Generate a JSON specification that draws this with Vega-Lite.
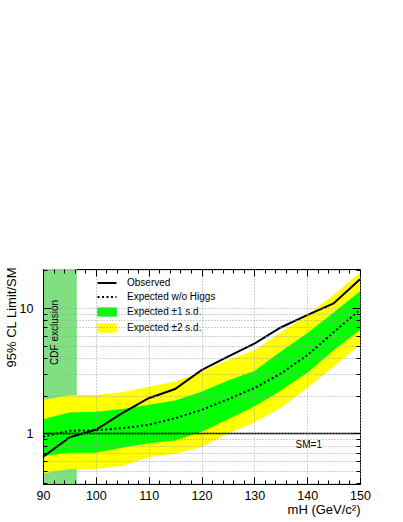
{
  "$schema": "https://vega.github.io/schema/vega-lite/v6.json",
  "width": 317,
  "height": 215,
  "autosize": {"type": "none"},
  "padding": {"left": 43, "top": 269, "right": 43, "bottom": 38},
  "background": "white",
  "config": {
    "font": "Liberation Sans",
    "view": {"stroke": "black", "strokeWidth": 1}
  },
  "resolve": {"axis": {"x": "independent", "y": "independent"}},
  "datasets": {
    "cdf": [{"label": "CDF exclusion", "from": 90, "to": 96.4}],
    "lines": [
      {"m": 90, "series": "Observed", "v": 0.65},
      {"m": 95, "series": "Observed", "v": 0.93},
      {"m": 100, "series": "Observed", "v": 1.07},
      {"m": 105, "series": "Observed", "v": 1.45},
      {"m": 110, "series": "Observed", "v": 1.91},
      {"m": 115, "series": "Observed", "v": 2.26},
      {"m": 120, "series": "Observed", "v": 3.2},
      {"m": 125, "series": "Observed", "v": 4.1},
      {"m": 130, "series": "Observed", "v": 5.2},
      {"m": 135, "series": "Observed", "v": 7.0},
      {"m": 140, "series": "Observed", "v": 8.8},
      {"m": 145, "series": "Observed", "v": 10.9},
      {"m": 150, "series": "Observed", "v": 17.0},
      {"m": 90, "series": "Expected w/o Higgs", "v": 0.94},
      {"m": 95, "series": "Expected w/o Higgs", "v": 1.05},
      {"m": 100, "series": "Expected w/o Higgs", "v": 1.06},
      {"m": 105, "series": "Expected w/o Higgs", "v": 1.1},
      {"m": 110, "series": "Expected w/o Higgs", "v": 1.17},
      {"m": 115, "series": "Expected w/o Higgs", "v": 1.32},
      {"m": 120, "series": "Expected w/o Higgs", "v": 1.54},
      {"m": 125, "series": "Expected w/o Higgs", "v": 1.87},
      {"m": 130, "series": "Expected w/o Higgs", "v": 2.3},
      {"m": 135, "series": "Expected w/o Higgs", "v": 3.0},
      {"m": 140, "series": "Expected w/o Higgs", "v": 4.2},
      {"m": 145, "series": "Expected w/o Higgs", "v": 6.4},
      {"m": 150, "series": "Expected w/o Higgs", "v": 9.7}
    ],
    "bands": [
      {"m": 90, "series": "Expected ±1 s.d.", "lo": 0.66, "hi": 1.3},
      {"m": 95, "series": "Expected ±1 s.d.", "lo": 0.7, "hi": 1.47},
      {"m": 100, "series": "Expected ±1 s.d.", "lo": 0.7, "hi": 1.49},
      {"m": 105, "series": "Expected ±1 s.d.", "lo": 0.77, "hi": 1.57},
      {"m": 110, "series": "Expected ±1 s.d.", "lo": 0.835, "hi": 1.69},
      {"m": 115, "series": "Expected ±1 s.d.", "lo": 0.88, "hi": 1.83},
      {"m": 120, "series": "Expected ±1 s.d.", "lo": 1.03, "hi": 2.15},
      {"m": 125, "series": "Expected ±1 s.d.", "lo": 1.3, "hi": 2.65},
      {"m": 130, "series": "Expected ±1 s.d.", "lo": 1.64, "hi": 3.15},
      {"m": 135, "series": "Expected ±1 s.d.", "lo": 2.2, "hi": 4.5},
      {"m": 140, "series": "Expected ±1 s.d.", "lo": 3.05, "hi": 6.3},
      {"m": 145, "series": "Expected ±1 s.d.", "lo": 4.6, "hi": 9.2},
      {"m": 150, "series": "Expected ±1 s.d.", "lo": 6.7, "hi": 13.6},
      {"m": 90, "series": "Expected ±2 s.d.", "lo": 0.48, "hi": 1.85},
      {"m": 95, "series": "Expected ±2 s.d.", "lo": 0.52, "hi": 2.02},
      {"m": 100, "series": "Expected ±2 s.d.", "lo": 0.52, "hi": 2.03},
      {"m": 105, "series": "Expected ±2 s.d.", "lo": 0.55, "hi": 2.13},
      {"m": 110, "series": "Expected ±2 s.d.", "lo": 0.65, "hi": 2.36},
      {"m": 115, "series": "Expected ±2 s.d.", "lo": 0.69, "hi": 2.59},
      {"m": 120, "series": "Expected ±2 s.d.", "lo": 0.78, "hi": 3.11},
      {"m": 125, "series": "Expected ±2 s.d.", "lo": 1.0, "hi": 3.85},
      {"m": 130, "series": "Expected ±2 s.d.", "lo": 1.22, "hi": 4.6},
      {"m": 135, "series": "Expected ±2 s.d.", "lo": 1.6, "hi": 6.4},
      {"m": 140, "series": "Expected ±2 s.d.", "lo": 2.3, "hi": 8.8},
      {"m": 145, "series": "Expected ±2 s.d.", "lo": 3.4, "hi": 12.7},
      {"m": 150, "series": "Expected ±2 s.d.", "lo": 5.1, "hi": 19.2}
    ]
  },
  "layer": [
    {
      "data": {"name": "cdf"},
      "mark": {"type": "rect", "color": "#80df80", "opacity": 1},
      "encoding": {
        "x": {"field": "from", "type": "quantitative", "scale": {"domain": [90, 150], "nice": false, "zero": false}, "axis": null},
        "x2": {"field": "to"}
      }
    },
    {
      "data": {"name": "bands"},
      "transform": [{"filter": "datum.series == 'Expected ±2 s.d.'"}],
      "mark": {"type": "area", "opacity": 1},
      "encoding": {
        "x": {
          "field": "m", "type": "quantitative",
          "scale": {"domain": [90, 150], "nice": false, "zero": false},
          "axis": {
            "orient": "bottom",
            "values": [90, 100, 110, 120, 130, 140, 150],
            "format": "d",
            "labelFontSize": 12.5, "labelColor": "black", "labelPadding": 12, "labelFlush": false, "labelOverlap": false,
            "grid": true, "gridColor": "#a0a0a0", "gridDash": [1, 2], "gridWidth": 1,
            "tickColor": "black", "tickSize": -7,
            "domain": true, "domainColor": "black",
            "title": "mH (GeV/c²)", "titleFontSize": 13, "titleFontWeight": "normal", "titleColor": "black",
            "titleAnchor": "end", "titleAlign": "right", "titleBaseline": "alphabetic", "titleX": 317, "titleY": 29,
            "zindex": 1
          }
        },
        "y": {
          "field": "lo", "type": "quantitative",
          "scale": {"type": "log", "domain": [0.395, 20.5], "nice": false},
          "axis": {
            "orient": "left",
            "values": [1, 10],
            "format": "d",
            "labelFontSize": 12.5, "labelColor": "black", "labelPadding": 18, "labelOverlap": false,
            "grid": true, "gridColor": "#a0a0a0", "gridDash": [1, 2], "gridWidth": 1,
            "tickColor": "black", "tickSize": -8,
            "domain": true, "domainColor": "black",
            "title": "95% CL Limit/SM", "titleFontSize": 13, "titleFontWeight": "normal", "titleColor": "black",
            "titleAnchor": "end", "titleAlign": "right", "titleBaseline": "alphabetic", "titleAngle": 270, "titleX": -28, "titleY": -2,
            "zindex": 1
          }
        },
        "y2": {"field": "hi"},
        "color": {
          "field": "series", "type": "nominal",
          "scale": {"domain": ["Observed", "Expected w/o Higgs", "Expected ±1 s.d.", "Expected ±2 s.d."], "range": ["black", "black", "#00ff00", "#ffff00"]},
          "legend": {
            "title": null, "orient": "none", "legendX": 59, "legendY": 9, "direction": "vertical",
            "padding": 0, "rowPadding": 4, "labelFontSize": 10, "labelColor": "black", "labelOffset": 15,
            "symbolSize": 90, "symbolOpacity": 1,
            "encode": {
              "symbols": {
                "update": {
                  "shape": {"signal": "(datum.value == 'Observed' || datum.value == 'Expected w/o Higgs') ? 'M-2,0H2' : 'M-2,-0.9H2V0.9H-2Z'"},
                  "fill": {"signal": "datum.value == 'Expected ±1 s.d.' ? '#00ff00' : (datum.value == 'Expected ±2 s.d.' ? '#ffff00' : 'transparent')"},
                  "stroke": {"signal": "datum.value == 'Expected ±1 s.d.' ? '#00b000' : (datum.value == 'Expected ±2 s.d.' ? '#c8c800' : 'black')"},
                  "strokeWidth": {"signal": "(datum.value == 'Observed' || datum.value == 'Expected w/o Higgs') ? 2 : 0.7"},
                  "strokeDash": {"signal": "datum.value == 'Expected w/o Higgs' ? [2, 2.5] : [1, 0]"},
                  "opacity": {"value": 1}
                }
              }
            }
          }
        }
      }
    },
    {
      "data": {"name": "bands"},
      "transform": [{"filter": "datum.series == 'Expected ±1 s.d.'"}],
      "mark": {"type": "area", "opacity": 1},
      "encoding": {
        "x": {
          "field": "m", "type": "quantitative", "scale": {"domain": [90, 150], "nice": false, "zero": false},
          "axis": {
            "orient": "bottom",
            "values": [92, 94, 96, 98, 102, 104, 106, 108, 112, 114, 116, 118, 122, 124, 126, 128, 132, 134, 136, 138, 142, 144, 146, 148],
            "labels": false, "grid": false, "domain": false, "title": null, "tickColor": "black", "tickSize": -4, "zindex": 1
          }
        },
        "y": {
          "field": "lo", "type": "quantitative", "scale": {"type": "log", "domain": [0.395, 20.5], "nice": false},
          "axis": {
            "orient": "left",
            "values": [0.4, 0.5, 0.6, 0.7, 0.8, 0.9, 2, 3, 4, 5, 6, 7, 8, 9, 20],
            "labels": false, "domain": false, "title": null, "tickColor": "black", "tickSize": -4,
            "grid": true, "gridColor": "#a0a0a0", "gridDash": [1, 2], "gridWidth": 1,
            "zindex": 1
          }
        },
        "y2": {"field": "hi"},
        "color": {"field": "series", "type": "nominal", "scale": {"domain": ["Observed", "Expected w/o Higgs", "Expected ±1 s.d.", "Expected ±2 s.d."], "range": ["black", "black", "#00ff00", "#ffff00"]}}
      }
    },
    {
      "data": {"values": [{}]},
      "mark": {"type": "rule", "color": "black", "strokeWidth": 1.5},
      "encoding": {
        "y": {"datum": 1, "type": "quantitative", "scale": {"type": "log", "domain": [0.395, 20.5], "nice": false}, "axis": null}
      }
    },
    {
      "data": {"name": "lines"},
      "transform": [{"filter": "datum.series == 'Expected w/o Higgs'"}],
      "mark": {"type": "line", "strokeWidth": 2, "strokeDash": [2, 2.5]},
      "encoding": {
        "x": {
          "field": "m", "type": "quantitative", "scale": {"domain": [90, 150], "nice": false, "zero": false},
          "axis": {
            "orient": "top",
            "values": [92, 94, 96, 98, 102, 104, 106, 108, 112, 114, 116, 118, 122, 124, 126, 128, 132, 134, 136, 138, 142, 144, 146, 148],
            "labels": false, "grid": false, "domain": false, "title": null, "tickColor": "black", "tickSize": -4, "zindex": 1
          }
        },
        "y": {
          "field": "v", "type": "quantitative", "scale": {"type": "log", "domain": [0.395, 20.5], "nice": false},
          "axis": {
            "orient": "right",
            "values": [0.4, 0.5, 0.6, 0.7, 0.8, 0.9, 2, 3, 4, 5, 6, 7, 8, 9, 20],
            "labels": false, "grid": false, "domain": false, "title": null, "tickColor": "black", "tickSize": -4, "zindex": 1
          }
        },
        "color": {"field": "series", "type": "nominal", "scale": {"domain": ["Observed", "Expected w/o Higgs", "Expected ±1 s.d.", "Expected ±2 s.d."], "range": ["black", "black", "#00ff00", "#ffff00"]}}
      }
    },
    {
      "data": {"name": "lines"},
      "transform": [{"filter": "datum.series == 'Observed'"}],
      "mark": {"type": "line", "strokeWidth": 2},
      "encoding": {
        "x": {
          "field": "m", "type": "quantitative", "scale": {"domain": [90, 150], "nice": false, "zero": false},
          "axis": {
            "orient": "top",
            "values": [90, 100, 110, 120, 130, 140, 150],
            "labels": false, "grid": false, "domain": false, "title": null, "tickColor": "black", "tickSize": -7, "zindex": 1
          }
        },
        "y": {
          "field": "v", "type": "quantitative", "scale": {"type": "log", "domain": [0.395, 20.5], "nice": false},
          "axis": {
            "orient": "right",
            "values": [1, 10],
            "labels": false, "grid": false, "domain": false, "title": null, "tickColor": "black", "tickSize": -8, "zindex": 1
          }
        },
        "color": {"field": "series", "type": "nominal", "scale": {"domain": ["Observed", "Expected w/o Higgs", "Expected ±1 s.d.", "Expected ±2 s.d."], "range": ["black", "black", "#00ff00", "#ffff00"]}}
      }
    },
    {
      "data": {"values": [{"label": "SM=1"}]},
      "mark": {"type": "text", "fontSize": 10, "color": "black", "align": "center", "baseline": "middle", "dy": 11.5},
      "encoding": {
        "text": {"field": "label"},
        "x": {"datum": 140.3, "type": "quantitative", "scale": {"domain": [90, 150], "nice": false, "zero": false}, "axis": null},
        "y": {"datum": 1, "type": "quantitative", "scale": {"type": "log", "domain": [0.395, 20.5], "nice": false}, "axis": null}
      }
    },
    {
      "data": {"name": "cdf"},
      "mark": {"type": "text", "fontSize": 10, "color": "black", "align": "center", "baseline": "middle", "angle": 270},
      "encoding": {
        "text": {"field": "label"},
        "x": {"datum": 92.3, "type": "quantitative", "scale": {"domain": [90, 150], "nice": false, "zero": false}, "axis": null},
        "y": {"datum": 6.4, "type": "quantitative", "scale": {"type": "log", "domain": [0.395, 20.5], "nice": false}, "axis": null}
      }
    }
  ]
}
